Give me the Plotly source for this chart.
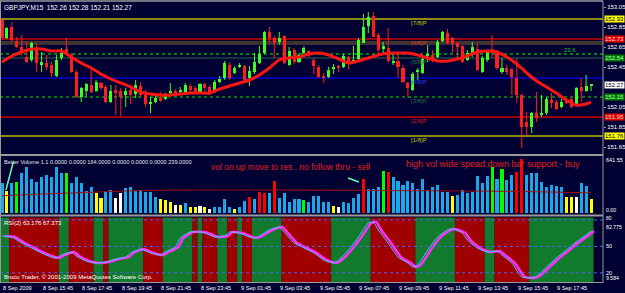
import plotly.graph_objects as go

# ---------------- DATA ----------------
open_ = [152.92,152.74,152.85,152.71,152.65,152.55,152.52,152.62,152.47,152.49,
152.47,152.36,152.54,152.63,152.57,152.40,152.15,152.21,152.27,152.21,
152.29,152.25,152.10,152.22,152.21,152.17,152.22,152.18,152.26,152.17,
152.08,152.10,152.15,152.13,152.19,152.21,152.20,152.19,152.26,152.24,
152.19,152.28,152.25,152.21,152.30,152.34,152.47,152.39,152.45,152.46,
152.34,152.40,152.49,152.59,152.80,152.74,152.70,152.76,152.47,152.62,
152.50,152.59,152.61,152.52,152.45,152.36,152.35,152.43,152.46,152.45,
152.55,152.50,152.53,152.69,152.86,152.96,152.77,152.63,152.64,152.49,
152.51,152.44,152.29,152.22,152.40,152.39,152.56,152.57,152.55,152.71,
152.79,152.74,152.69,152.66,152.52,152.57,152.63,152.40,152.52,152.63,
152.60,152.40,152.44,152.43,152.34,152.17,151.90,151.85,151.99,151.97,
151.99,152.12,152.10,152.05,152.11,152.13,152.08,152.25,152.21,152.26]
high = [152.94,152.85,152.90,152.75,152.77,152.70,152.70,152.69,152.60,152.57,
152.50,152.57,152.64,152.74,152.59,152.42,152.25,152.29,152.42,152.32,
152.30,152.27,152.27,152.27,152.24,152.24,152.27,152.32,152.30,152.22,
152.15,152.16,152.20,152.19,152.29,152.23,152.25,152.29,152.28,152.26,
152.29,152.29,152.27,152.32,152.36,152.51,152.50,152.46,152.49,152.47,
152.46,152.59,152.66,152.81,152.85,152.76,152.80,152.77,152.65,152.64,
152.59,152.66,152.62,152.54,152.47,152.39,152.45,152.48,152.47,152.58,
152.56,152.66,152.74,152.98,153.00,153.00,152.79,152.70,152.84,152.59,
152.57,152.47,152.30,152.40,152.44,152.57,152.67,152.62,152.72,152.81,
152.83,152.75,152.70,152.67,152.62,152.70,152.69,152.56,152.62,152.77,
152.62,152.54,152.47,152.44,152.54,152.18,152.00,152.00,152.20,152.17,
152.15,152.19,152.12,152.13,152.14,152.15,152.25,152.34,152.37,152.28]
low = [152.74,152.73,152.70,152.64,152.57,152.49,152.50,152.40,152.40,152.42,
152.35,152.35,152.52,152.57,152.39,152.14,152.10,152.15,152.19,152.20,
152.22,152.09,152.09,151.97,151.96,152.05,152.08,152.14,152.15,152.05,
151.99,152.09,152.10,152.12,152.17,152.17,152.19,152.18,152.20,152.18,
152.18,152.20,152.17,152.19,152.29,152.32,152.32,152.38,152.44,152.30,
152.26,152.38,152.48,152.58,152.69,152.54,152.67,152.48,152.46,152.48,
152.49,152.56,152.55,152.38,152.34,152.29,152.34,152.38,152.40,152.44,
152.43,152.49,152.52,152.69,152.79,152.75,152.57,152.59,152.49,152.47,
152.34,152.29,152.15,152.21,152.32,152.38,152.50,152.50,152.54,152.70,
152.68,152.59,152.53,152.49,152.51,152.55,152.41,152.39,152.50,152.54,
152.42,152.38,152.37,152.17,152.09,151.64,151.77,151.79,151.90,151.95,
151.97,152.04,152.02,152.04,152.08,152.04,152.07,152.10,152.20,152.21]
close = [152.74,152.84,152.72,152.65,152.59,152.50,152.69,152.49,152.50,152.45,
152.39,152.52,152.59,152.59,152.40,152.15,152.24,152.28,152.20,152.30,
152.24,152.10,152.21,152.19,152.15,152.21,152.17,152.27,152.17,152.08,
152.09,152.14,152.11,152.17,152.20,152.19,152.21,152.27,152.22,152.19,
152.28,152.24,152.19,152.30,152.33,152.49,152.34,152.44,152.47,152.32,
152.41,152.50,152.58,152.80,152.74,152.69,152.74,152.49,152.61,152.50,
152.57,152.64,152.57,152.46,152.35,152.34,152.42,152.45,152.44,152.56,
152.48,152.52,152.72,152.85,152.95,152.75,152.62,152.66,152.51,152.50,
152.45,152.30,152.24,152.38,152.42,152.53,152.58,152.53,152.70,152.80,
152.69,152.68,152.65,152.50,152.59,152.65,152.42,152.54,152.60,152.59,
152.44,152.44,152.40,152.35,152.17,151.85,151.85,151.99,151.94,151.99,
152.13,152.09,152.03,152.10,152.09,152.05,152.24,152.21,152.26,152.27]

ma_idx = list(range(0, 120, 2)) + [119]
ma_val = [152.50,152.56,152.60,152.63,152.63,152.61,152.61,152.55,152.49,152.44,
152.38,152.33,152.29,152.25,152.20,152.18,152.17,152.17,152.18,152.19,
152.19,152.19,152.23,152.26,152.29,152.32,152.37,152.44,152.52,152.54,
152.55,152.58,152.59,152.57,152.53,152.49,152.51,152.54,152.57,152.59,
152.59,152.59,152.57,152.54,152.51,152.51,152.53,152.56,152.60,152.61,
152.60,152.55,152.48,152.39,152.31,152.25,152.19,152.12,152.07,152.08,152.10]

volume = [356,261,356,368,475,546,404,368,428,451,
428,546,475,475,356,428,356,261,309,238,
178,249,273,178,238,297,309,261,273,249,
249,190,166,154,131,95,95,119,71,71,
83,71,48,71,71,166,71,48,71,143,
190,166,249,238,238,380,178,238,131,166,
166,154,131,202,202,131,131,83,71,131,
119,178,226,404,285,285,309,499,487,428,
380,333,380,356,285,404,273,309,333,249,
249,202,214,273,238,249,440,356,440,546,
404,523,392,451,487,641.55,451,475,475,368,
309,333,321,309,190,190,190,356,321,164]
vol_class = ("BYBGBBBBBB" "BBBGBBBBBY" "YBBWWBBBBB" "BBYYYWYBYY" "WYWBBBBYBB"
             "RBRRBRBBBB" "BGBBBBBYWB" "BBBRBBBGRB" "BBBBBBBBBB" "BYBBBBBBBG"
             "BGBBRRBBBB" "BBBBYYWBBY")
vol_avg_idx = [0, 13, 30, 50, 70, 90, 105, 119]
vol_avg_val = [205, 236, 268, 272, 270, 262, 255, 239]
trend1_idx = [0.8, 2.3]
trend1_val = [273, 610]
trend2_idx = [69.9, 72.1]
trend2_val = [416, 368]

rsi_idx = [0,2,4,6,8,10,11,12,14,15,17,19,21,23,25,26,28,30,32,33,35,36,38,40,41,43,45,46,48,50,
           51,52,54,56,57,59,61,63,65,67,68,70,72,74,75,76,78,80,82,83,84,86,88,90,91,93,94,96,98,100,
           101,103,105,107,108,110,112,114,116,118,119]
rsi_val = [61.8,60.6,53.8,48.2,42.5,37.9,36.8,40.2,43.6,39.1,33.4,31.1,32.3,35.7,37.9,42.5,47.0,42.5,40.2,43.6,
           49.3,59.5,66.3,66.3,65.2,60.6,61.8,66.3,65.2,60.6,59.5,61.8,68.6,72.0,66.3,53.8,48.2,42.5,34.5,31.1,
           34.5,45.9,60.6,76.5,77.7,68.6,53.8,37.9,31.1,26.6,28.9,45.9,60.6,68.6,69.7,65.2,57.2,48.2,43.6,44.7,
           40.2,31.1,15.3,14.2,16.4,26.6,36.8,45.9,55.0,62.9,67.4]
band_edges = [-0.5,1.5,11.5,13.5,18.5,20.5,21.5,28.5,32.5,38.5,39.5,40.5,43.5,45.5,47.5,48.5,50.5,
              56.5,66.5,74.5,83.5,91.5,97.5,99.5,106.5,119.5]
rsi_levels = [80, 50, 20]
rsi_min, rsi_max = 9.584, 82.775
vol_max_label = "641.55"

murrey_levels = [152.93, 152.73, 152.54, 152.34, 152.15, 151.95, 151.76]
murrey_names = ["[7/8]P", "[6/8]P", "[5/8]P", "[4/8]P", "[3/8]P", "[2/8]P", "[1/8]P"]
fib_level = 152.58
fib_name = "23.6"
band_level = [152.70, 152.68]
price_ticks = [153.05, 152.85, 152.65, 152.45, 152.05, 151.85, 151.65]
price_boxes = [152.93, 152.73, 152.54, 152.27, 152.15, 151.95, 151.76]

time_idx = list(range(0, 120, 8))
time_text = ["8 Sep 2009", "8 Sep 15:45", "8 Sep 17:45", "8 Sep 19:45", "8 Sep 21:45",
             "8 Sep 23:45", "9 Sep 01:45", "9 Sep 03:45", "9 Sep 05:45", "9 Sep 07:45",
             "9 Sep 09:45", "9 Sep 11:45", "9 Sep 13:45", "9 Sep 15:45", "9 Sep 17:45"]

title_main = "GBPJPY,M15  152.26 152.28 152.21 152.27"
title_vol = "Better Volume 1.1 0.0000 0.0000 164.0000 0.0000 0.0000 0.0000 239.0000"
title_rsi = "RSI(2) 63.176 67.373"
copyright_txt = "Broco Trader, © 2001-2009 MetaQuotes Software Corp."
note1 = "vol on up move to res . no follow thru - sell"
note2 = "high vol wide spead down bar support - buy"

# ---------------- STYLE ----------------
W, H = 625, 293
BG = "#000033"
BULL = "#3cff1e"
BEAR = "#ff1e1e"
FONT = "Liberation Sans"
XE = 603 / W


def yp(px):
    return 1 - px / H


n = len(close)
idx = list(range(n))

fig = go.Figure()

# wicks
bx, by, rx, ry = [], [], [], []
for i in idx:
    if close[i] >= open_[i]:
        bx += [i, i, None]; by += [low[i], high[i], None]
    else:
        rx += [i, i, None]; ry += [low[i], high[i], None]
fig.add_trace(go.Scatter(x=bx, y=by, mode="lines", line=dict(color=BULL, width=1),
                         hoverinfo="skip", xaxis="x", yaxis="y"))
fig.add_trace(go.Scatter(x=rx, y=ry, mode="lines", line=dict(color=BEAR, width=1),
                         hoverinfo="skip", xaxis="x", yaxis="y"))
# bodies
fig.add_trace(go.Bar(x=idx, base=[min(o, c) for o, c in zip(open_, close)],
                     y=[max(abs(c - o), 0.012) for o, c in zip(open_, close)],
                     width=0.62,
                     marker=dict(color=[BULL if c >= o else BEAR for o, c in zip(open_, close)],
                                 line=dict(width=0)),
                     hoverinfo="skip", xaxis="x", yaxis="y"))
# MA
fig.add_trace(go.Scatter(x=ma_idx, y=ma_val, mode="lines",
                         line=dict(color="#ff1414", width=3, shape="spline", smoothing=0.6),
                         hoverinfo="skip", xaxis="x", yaxis="y"))

# volume
vcols = {"B": "#19a8e8", "Y": "#ffff00", "G": "#00ff00", "W": "#ffffff", "R": "#ff0000"}
fig.add_trace(go.Bar(x=idx, y=volume, width=0.62,
                     marker=dict(color=[vcols[c] for c in vol_class], line=dict(width=0)),
                     hoverinfo="skip", xaxis="x2", yaxis="y2"))
fig.add_trace(go.Scatter(x=vol_avg_idx, y=vol_avg_val, mode="lines",
                         line=dict(color="#a01010", width=1, shape="spline"),
                         hoverinfo="skip", xaxis="x2", yaxis="y2"))
for tx, ty in [(trend1_idx, trend1_val), (trend2_idx, trend2_val)]:
    fig.add_trace(go.Scatter(x=tx, y=ty, mode="lines", line=dict(color="#66ffaa", width=1.5),
                             hoverinfo="skip", xaxis="x2", yaxis="y2"))

# RSI
fig.add_trace(go.Scatter(x=[v + 0.6 for v in rsi_idx], y=rsi_val, mode="lines",
                         line=dict(color="#ff30ff", width=2.5, shape="spline", smoothing=0.5),
                         hoverinfo="skip", xaxis="x3", yaxis="y3"))
fig.add_trace(go.Scatter(x=rsi_idx, y=rsi_val, mode="lines",
                         line=dict(color="#40c8ff", width=1, shape="spline", smoothing=0.5),
                         hoverinfo="skip", xaxis="x3", yaxis="y3"))

shapes = []
# RSI bands
for k in range(len(band_edges) - 1):
    shapes.append(dict(type="rect", xref="x3", yref="y3 domain", x0=band_edges[k], x1=band_edges[k + 1],
                       y0=0, y1=1, fillcolor="#117a2c" if k % 2 == 0 else "#a00000",
                       line=dict(width=0), layer="below"))
for lv in rsi_levels:
    shapes.append(dict(type="line", xref="paper", yref="y3", x0=0, x1=XE, y0=lv, y1=lv,
                       line=dict(color="#4a64ff", width=1, dash="dot")))

# main horizontal levels
mcol = ["#b8b800", "#c80000", "#1c4444", "#0000d0", "#00a000", "#c80000", "#b8b800"]
mdash = ["solid", "solid", "solid", "solid", "dot", "solid", "solid"]
for lv, c, d in zip(murrey_levels, mcol, mdash):
    shapes.append(dict(type="line", xref="paper", yref="y", x0=0, x1=XE, y0=lv, y1=lv,
                       line=dict(color=c, width=1.3, dash=d), layer="below"))
shapes.append(dict(type="line", xref="paper", yref="y", x0=0, x1=XE, y0=fib_level, y1=fib_level,
                   line=dict(color="#00b000", width=1.3, dash="dot"), layer="below"))
for lv, c in zip(band_level, ["#8a6a20", "#6a6440"]):
    shapes.append(dict(type="line", xref="paper", yref="y", x0=0, x1=XE, y0=lv, y1=lv,
                       line=dict(color=c, width=1.2), layer="below"))

# borders / separators
for py_, w in [(1, 1.5), (155, 2), (215.5, 2), (282.5, 1)]:
    shapes.append(dict(type="line", xref="paper", yref="paper", x0=0, x1=XE, y0=yp(py_), y1=yp(py_),
                       line=dict(color="#9a9a9a", width=w)))
shapes.append(dict(type="line", xref="paper", yref="paper", x0=XE, x1=XE, y0=yp(282.5), y1=yp(1),
                   line=dict(color="#9a9a9a", width=1)))
shapes.append(dict(type="line", xref="paper", yref="paper", x0=0.5 / W, x1=0.5 / W, y0=yp(282.5), y1=yp(1),
                   line=dict(color="#9a9a9a", width=1)))

ann = []


def txt(x, y, s, size=6, color="#ffffff", xanchor="left", yanchor="middle", xref="paper", yref="paper",
        bg=None, yshift=0):
    d = dict(x=x, y=y, text=s, showarrow=False, xref=xref, yref=yref, xanchor=xanchor, yanchor=yanchor,
             font=dict(family=FONT, size=size, color=color), yshift=yshift, borderpad=0)
    if bg:
        d["bgcolor"] = bg
    ann.append(d)


txt(3 / W, yp(7), title_main, size=6.5)
txt(3 / W, yp(162), title_vol, size=5.6, color="#e6e6e6")
txt(3 / W, yp(223), title_rsi, size=6)
txt(3 / W, yp(277), copyright_txt, size=6)
txt(210 / W, yp(167), note1, size=8.5, color="#e02020")
txt(405 / W, yp(164), note2, size=9, color="#e02020")

mtext = ["#c8c800", "#d04020", "#2a7050", "#3040e0", "#2a7050", "#d02020", "#c8c800"]
for lv, nm, c in zip(murrey_levels, murrey_names, mtext):
    txt(82.4, lv, nm, size=6, color=c, xref="x", yref="y", yshift=-4)
txt(113.3, fib_level, fib_name, size=6, color="#20c020", xref="x", yref="y", yshift=4)

box_style = {152.93: ("#ffff00", "#000000"), 152.73: ("#e00000", "#ffd0d0"),
             152.54: ("#007a00", "#b0ffb0"), 152.27: ("#ffffff", "#000000"),
             152.15: ("#007a00", "#b0ffb0"), 151.95: ("#e00000", "#ffd0d0"),
             151.76: ("#ffff00", "#000000")}
for p in price_boxes:
    bgc, fc = box_style[p]
    txt(604 / W, p, f"{p:.2f}", size=6, color=fc, xref="paper", yref="y", bg=bgc)

# volume and RSI scale labels
txt(605 / W, yp(160), vol_max_label, size=5.5)
txt(605 / W, yp(209.5), "0.00", size=5.2)
txt(605 / W, rsi_levels[0], str(rsi_levels[0]), size=5, yref="y3", yanchor="middle", yshift=2)
txt(605 / W, rsi_max, f"{rsi_max:g}", size=5.2, yref="y3", yanchor="top", yshift=-5)
for lv in rsi_levels[1:]:
    txt(605 / W, lv, str(lv), size=5.5, yref="y3")
txt(605 / W, rsi_min, f"{rsi_min:g}", size=5.2, yref="y3", yanchor="bottom")

for ti, tt in zip(time_idx, time_text):
    txt(ti, yp(287.5), tt, size=5.6, xref="x3", yref="paper")

xcommon = dict(range=[-0.404, 121.41], domain=[0, XE], showgrid=False, zeroline=False,
               showticklabels=False, showline=False, fixedrange=True)
fig.update_layout(
    width=W, height=H, autosize=False,
    margin=dict(l=0, r=0, t=0, b=0),
    paper_bgcolor=BG, plot_bgcolor=BG,
    showlegend=False, barmode="overlay", bargap=0,
    font=dict(family=FONT, size=6, color="#ffffff"),
    xaxis=dict(anchor="y", **xcommon),
    xaxis2=dict(anchor="y2", **xcommon),
    xaxis3=dict(anchor="y3", **xcommon),
    yaxis=dict(domain=[yp(154), yp(1)], range=[151.58, 153.11], side="right", anchor="x",
               tickvals=price_ticks, ticktext=[f"{v:.2f}" for v in price_ticks],
               tickfont=dict(family=FONT, size=6, color="#ffffff"),
               ticks="outside", ticklen=2, tickcolor="#9a9a9a",
               showgrid=False, zeroline=False, showline=False, fixedrange=True),
    yaxis2=dict(domain=[yp(213), yp(157)], range=[0, 665], anchor="x2", showticklabels=False,
                showgrid=False, zeroline=False, fixedrange=True),
    yaxis3=dict(domain=[yp(282), yp(217.5)], range=[rsi_min, rsi_max], anchor="x3",
                showticklabels=False, showgrid=False, zeroline=False, fixedrange=True),
    shapes=shapes, annotations=ann,
)

fig.write_html("out.html")
